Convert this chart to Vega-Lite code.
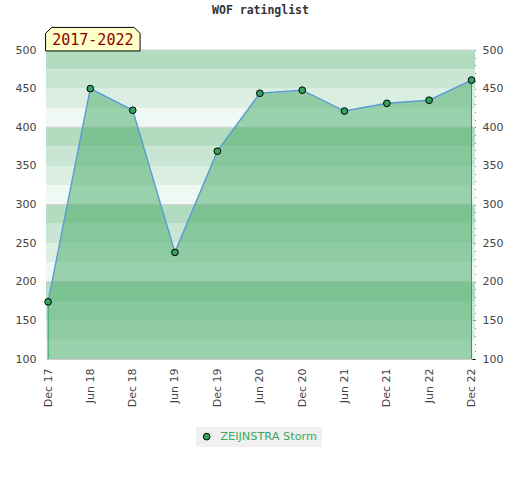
{
  "$schema": "https://vega.github.io/schema/vega-lite/v6.json",
  "width": 429,
  "height": 309,
  "autosize": {"type": "none"},
  "padding": {"left": 46, "top": 50, "right": 45, "bottom": 121},
  "background": "white",
  "title": {"text": "WOF ratinglist", "font": "DejaVu Sans Mono", "fontSize": 11.5, "fontWeight": "bold", "color": "#333333", "offset": 9, "anchor": "middle"},
  "config": {
    "view": {"stroke": null},
    "axis": {"labelFont": "DejaVu Sans", "labelFontSize": 11, "labelColor": "#444444", "title": null, "grid": false},
    "axisY": {"values": [100, 150, 200, 250, 300, 350, 400, 450, 500], "ticks": false, "domain": true, "domainColor": "#cccccc", "labelPadding": 10, "labelOverlap": false}
  },
  "datasets": {
    "ratings": [
      {"date": "2017/12/01", "rating": 174, "player": "ZEIJNSTRA Storm"},
      {"date": "2018/06/01", "rating": 450, "player": "ZEIJNSTRA Storm"},
      {"date": "2018/12/01", "rating": 422, "player": "ZEIJNSTRA Storm"},
      {"date": "2019/06/01", "rating": 238, "player": "ZEIJNSTRA Storm"},
      {"date": "2019/12/01", "rating": 369, "player": "ZEIJNSTRA Storm"},
      {"date": "2020/06/01", "rating": 444, "player": "ZEIJNSTRA Storm"},
      {"date": "2020/12/01", "rating": 448, "player": "ZEIJNSTRA Storm"},
      {"date": "2021/06/01", "rating": 421, "player": "ZEIJNSTRA Storm"},
      {"date": "2021/12/01", "rating": 431, "player": "ZEIJNSTRA Storm"},
      {"date": "2022/06/01", "rating": 435, "player": "ZEIJNSTRA Storm"},
      {"date": "2022/12/01", "rating": 461, "player": "ZEIJNSTRA Storm"}
    ],
    "bands": [
      {"top": 500, "bottom": 475, "shade": 0},
      {"top": 475, "bottom": 450, "shade": 1},
      {"top": 450, "bottom": 425, "shade": 2},
      {"top": 425, "bottom": 400, "shade": 3},
      {"top": 400, "bottom": 375, "shade": 0},
      {"top": 375, "bottom": 350, "shade": 1},
      {"top": 350, "bottom": 325, "shade": 2},
      {"top": 325, "bottom": 300, "shade": 3},
      {"top": 300, "bottom": 275, "shade": 0},
      {"top": 275, "bottom": 250, "shade": 1},
      {"top": 250, "bottom": 225, "shade": 2},
      {"top": 225, "bottom": 200, "shade": 3},
      {"top": 200, "bottom": 175, "shade": 0},
      {"top": 175, "bottom": 150, "shade": 1},
      {"top": 150, "bottom": 125, "shade": 2},
      {"top": 125, "bottom": 100, "shade": 3}
    ],
    "annotation": [
      {"label": "2017-2022", "when": "2018/06/12", "level": 514}
    ]
  },
  "encoding": {
    "x": {
      "field": "date",
      "type": "temporal",
      "scale": {"domain": [{"year": 2017, "month": 11, "date": 22}, {"year": 2022, "month": 12, "date": 16}]},
      "axis": {
        "values": [
          {"year": 2017, "month": 12, "date": 1},
          {"year": 2018, "month": 6, "date": 1},
          {"year": 2018, "month": 12, "date": 1},
          {"year": 2019, "month": 6, "date": 1},
          {"year": 2019, "month": 12, "date": 1},
          {"year": 2020, "month": 6, "date": 1},
          {"year": 2020, "month": 12, "date": 1},
          {"year": 2021, "month": 6, "date": 1},
          {"year": 2021, "month": 12, "date": 1},
          {"year": 2022, "month": 6, "date": 1},
          {"year": 2022, "month": 12, "date": 1}
        ],
        "format": "%b %y",
        "labelAngle": -90,
        "ticks": false,
        "domainColor": "#cccccc",
        "labelPadding": 9
      }
    }
  },
  "layer": [
    {
      "layer": [
        {
          "data": {"name": "bands"},
          "mark": {"type": "rect"},
          "encoding": {
            "x": null,
            "y": {
              "field": "top",
              "type": "quantitative",
              "scale": {"domain": [100, 500], "nice": false, "zero": false},
              "axis": {"orient": "left"}
            },
            "y2": {"field": "bottom"},
            "fill": {
              "field": "shade",
              "type": "ordinal",
              "scale": {"domain": [0, 1, 2, 3], "range": ["#b2dcc0", "#c9e6d4", "#dbeee2", "#eff8f2"]},
              "legend": null
            }
          }
        },
        {
          "data": {"name": "bands"},
          "transform": [{"filter": "datum.shade == 0"}],
          "mark": {"type": "rule", "color": "#d4d4d4", "strokeWidth": 1},
          "encoding": {
            "x": null,
            "y": {"field": "top", "type": "quantitative", "axis": {"orient": "left"}}
          }
        },
        {
          "data": {"name": "ratings"},
          "mark": {"type": "area", "fill": "#49ac6a", "fillOpacity": 0.52},
          "encoding": {
            "y": {"field": "rating", "type": "quantitative", "axis": {"orient": "left"}},
            "y2": {"datum": 100}
          }
        },
        {
          "data": {"name": "ratings"},
          "transform": [{"filter": "datum.rating == 174 || datum.rating == 461"}],
          "mark": {"type": "rule", "color": "#2e9e4f", "strokeWidth": 1},
          "encoding": {
            "y": {"field": "rating", "type": "quantitative", "axis": {"orient": "left"}},
            "y2": {"datum": 100}
          }
        },
        {
          "data": {"name": "ratings"},
          "mark": {"type": "line", "color": "#5b9bd5", "strokeWidth": 1.4},
          "encoding": {
            "y": {"field": "rating", "type": "quantitative", "axis": {"orient": "left"}}
          }
        },
        {
          "data": {"name": "ratings"},
          "mark": {"type": "point", "filled": true, "size": 45, "stroke": "black", "strokeWidth": 1, "opacity": 1},
          "encoding": {
            "y": {"field": "rating", "type": "quantitative", "axis": {"orient": "left"}},
            "color": {
              "field": "player",
              "type": "nominal",
              "scale": {"range": ["#35a35f"]},
              "legend": {
                "orient": "none",
                "legendX": 150,
                "legendY": 377,
                "title": null,
                "fillColor": "#f0f0f0",
                "padding": 4,
                "labelColor": "#3aa85e",
                "labelFont": "DejaVu Sans",
                "labelFontSize": 11.3,
                "symbolType": "circle",
                "symbolSize": 45,
                "symbolStrokeColor": "black",
                "symbolStrokeWidth": 1,
                "symbolOpacity": 1,
                "labelOffset": 8,
                "symbolOffset": 1
              }
            }
          }
        },
        {
          "data": {"name": "annotation"},
          "mark": {
            "type": "point",
            "shape": "M-1,0.249L-1,-0.122L-0.873,-0.249L0.873,-0.249L1,-0.122L1,0.249Z",
            "size": 8930,
            "filled": true,
            "fill": "#ffffc8",
            "stroke": "black",
            "strokeWidth": 1,
            "opacity": 1
          },
          "encoding": {
            "x": {"field": "when", "type": "temporal"},
            "y": {"field": "level", "type": "quantitative", "axis": {"orient": "left"}}
          }
        },
        {
          "data": {"name": "annotation"},
          "mark": {"type": "text", "font": "DejaVu Sans Mono", "fontSize": 15, "color": "#8b0000", "align": "center", "baseline": "middle", "dy": 1},
          "encoding": {
            "x": {"field": "when", "type": "temporal"},
            "y": {"field": "level", "type": "quantitative", "axis": {"orient": "left"}},
            "text": {"field": "label"}
          }
        }
      ]
    },
    {
      "data": {"name": "ratings"},
      "mark": {"type": "point", "opacity": 0},
      "encoding": {
        "y": {
          "field": "rating",
          "type": "quantitative",
          "scale": {"domain": [100, 500], "nice": false, "zero": false},
          "axis": {
            "orient": "right",
            "values": [100, 110, 120, 130, 140, 150, 160, 170, 180, 190, 200, 210, 220, 230, 240, 250, 260, 270, 280, 290, 300, 310, 320, 330, 340, 350, 360, 370, 380, 390, 400, 410, 420, 430, 440, 450, 460, 470, 480, 490, 500],
            "labelExpr": "datum.value % 50 == 0 ? datum.label : ''",
            "ticks": true,
            "tickSize": -3,
            "tickColor": "#000000",
            "domain": false,
            "labelPadding": 10,
            "labelOverlap": false
          }
        }
      }
    }
  ],
  "resolve": {"scale": {"y": "independent"}}
}
